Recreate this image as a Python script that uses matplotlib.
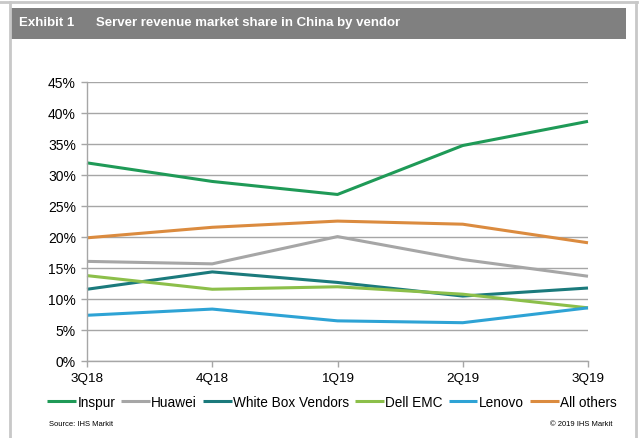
import matplotlib
matplotlib.use("Agg")
import matplotlib.pyplot as plt
from matplotlib.patches import Rectangle
from matplotlib.lines import Line2D
from matplotlib.ticker import FuncFormatter

plt.rcParams['font.family'] = ['Liberation Sans', 'DejaVu Sans']

quarters = ["3Q18", "4Q18", "1Q19", "2Q19", "3Q19"]
series_names = ["Inspur", "Huawei", "White Box Vendors", "Dell EMC", "Lenovo", "All others"]
inspur = [31.9, 28.9, 26.8, 34.7, 38.6]
huawei = [16.0, 15.6, 20.0, 16.3, 13.6]
white_box = [11.5, 14.3, 12.6, 10.4, 11.7]
dell_emc = [13.7, 11.5, 11.9, 10.7, 8.5]
lenovo = [7.3, 8.3, 6.4, 6.1, 8.5]
all_others = [19.8, 21.5, 22.5, 22.0, 19.0]
series_values = [inspur, huawei, white_box, dell_emc, lenovo, all_others]
colors = ["#1f9a57", "#a6a6a6", "#1b7a7c", "#8cbf4a", "#2ea3d5", "#db8b3f"]
yticks = [0, 5, 10, 15, 20, 25, 30, 35, 40, 45]

W, H = 643, 439
fig = plt.figure(figsize=(W / 100, H / 100), dpi=100)

def fx(px):
    return px / W

def fy(py):
    return 1 - py / H

# outer border
border = "#c8c8c8"
fig.add_artist(Line2D([fx(0), fx(637)], [fy(3), fy(3)], color=border, lw=2))
fig.add_artist(Line2D([fx(10), fx(10)], [fy(3), fy(439)], color=border, lw=2))
fig.add_artist(Line2D([fx(636), fx(636)], [fy(3), fy(439)], color=border, lw=2))

# title bar
fig.add_artist(Rectangle((fx(11), fy(40)), fx(626) - fx(11), fy(9) - fy(40),
                         transform=fig.transFigure, facecolor="#808080", edgecolor="none"))
fig.text(fx(19), fy(23), "Exhibit 1", color="white", fontsize=9.5, fontweight="bold",
         va="center", ha="left")
fig.text(fx(96), fy(23), "Server revenue market share in China by vendor", color="white",
         fontsize=9.5, fontweight="bold", va="center", ha="left")

ax = fig.add_axes([fx(87), fy(361.5), fx(588) - fx(87), fy(82.7) - fy(361.5)])
x = list(range(len(quarters)))
for name, vals, c in zip(series_names, series_values, colors):
    ax.plot(x, vals, color=c, lw=2.2, label=name, clip_on=False, solid_capstyle="butt")

ax.set_xlim(0, len(quarters) - 1)
ax.set_ylim(0, 45)
ax.set_yticks(yticks)
ax.yaxis.set_major_formatter(FuncFormatter(lambda v, p: f"{v:.0f}%"))
ax.set_xticks(x)
ax.set_xticklabels(quarters)
ax.grid(axis="y", color="#a6a6a6", lw=1)
ax.set_axisbelow(True)
for s in ["top", "right"]:
    ax.spines[s].set_visible(False)
for s in ["left", "bottom"]:
    ax.spines[s].set_color("#a6a6a6")
    ax.spines[s].set_linewidth(1)
ax.tick_params(axis="both", colors="#a6a6a6", length=4, width=1, labelcolor="black")
ax.tick_params(axis="y", pad=4, labelsize=10)
ax.tick_params(axis="x", pad=4.5, labelsize=9.7)

handles, labels = ax.get_legend_handles_labels()
leg = fig.legend(handles, labels, ncol=6, loc="center", bbox_to_anchor=(fx(332), fy(403)),
                 frameon=False, fontsize=9.8, handlelength=2.1, handletextpad=0.1,
                 columnspacing=0.45, borderpad=0, borderaxespad=0)

fig.text(fx(49), fy(425), "Source: IHS Markit", fontsize=5.5, va="center", ha="left")
fig.text(fx(613), fy(425), "© 2019 IHS Markit", fontsize=5.5, va="center", ha="right")

fig.savefig("out.png", dpi=100)
